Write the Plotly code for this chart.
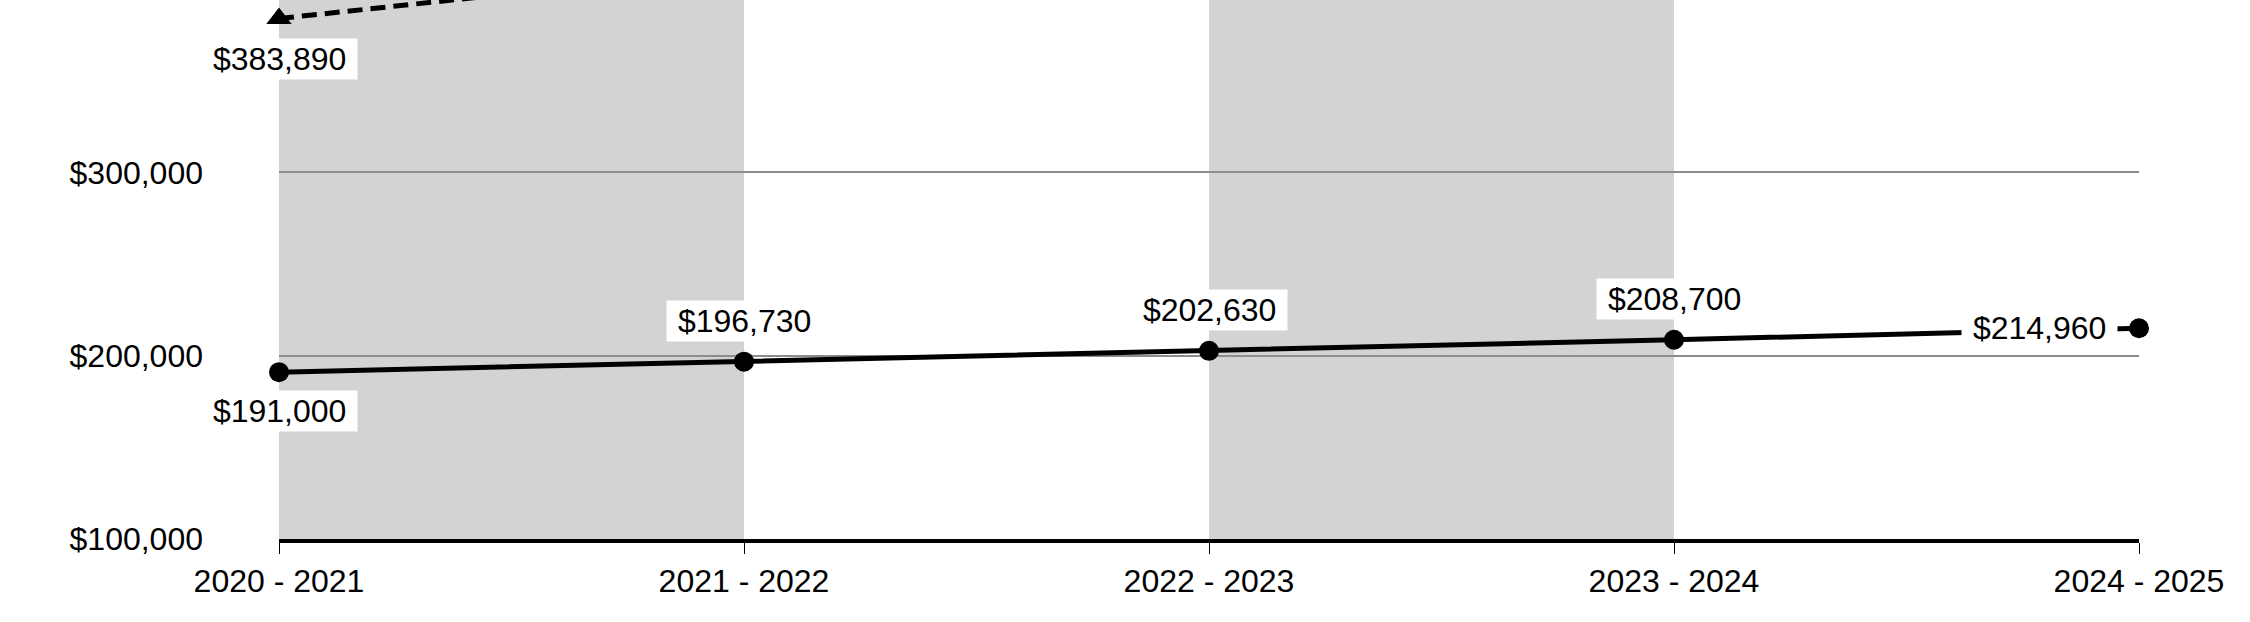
import plotly.graph_objects as go

# ---- data ----
categories = ["2020 - 2021", "2021 - 2022", "2022 - 2023", "2023 - 2024", "2024 - 2025"]
solid_values = [191000, 196730, 202630, 208700, 214960]
dashed_values = [383890, 411000, 439800, 470600, 503500]  # only first point/segment visible
shaded_spans = [(0, 1), (2, 3)]  # category index spans with grey background
y_tick_values = [100000, 200000, 300000, 400000]
y_tick_labels = ["$100,000", "$200,000", "$300,000", "$400,000"]
axis_title = "(USD)"

FONT = "Liberation Sans, Arial, sans-serif"
FS = 32

x = list(range(len(categories)))

fig = go.Figure()

fig.add_trace(go.Scatter(
    x=x, y=dashed_values, mode="lines+markers",
    line=dict(color="black", width=5, dash="15px,8px"),
    marker=dict(symbol="triangle-up", size=22, color="black"),
    cliponaxis=False, hoverinfo="skip", showlegend=False,
))
fig.add_trace(go.Scatter(
    x=x, y=solid_values, mode="lines+markers",
    line=dict(color="black", width=5),
    marker=dict(symbol="circle", size=20, color="black"),
    cliponaxis=False, hoverinfo="skip", showlegend=False,
))

for a, b in shaded_spans:
    fig.add_shape(type="rect", xref="x", yref="paper", x0=x[a], x1=x[b], y0=0, y1=1,
                  fillcolor="#d3d3d3", line=dict(width=0), layer="below")

def fmt(v):
    return "${:,}".format(v)

nb = "\u00a0"
annots = []
placement = ["below", "above", "above", "above", "left"]
for i, (v, p) in enumerate(zip(solid_values, placement)):
    d = dict(x=x[i], y=v, xref="x", yref="y", text=nb + fmt(v) + nb, showarrow=False,
             bgcolor="white", borderpad=2, font=dict(family=FONT, size=FS, color="black"))
    if p == "below":
        d.update(yshift=-39)
    elif p == "above":
        d.update(yshift=41)
    else:
        d.update(xanchor="right", xshift=-21)
    annots.append(d)
annots.append(dict(x=x[0], y=dashed_values[0], xref="x", yref="y", text=nb + fmt(dashed_values[0]) + nb,
                   showarrow=False, bgcolor="white", borderpad=2, yshift=-40,
                   font=dict(family=FONT, size=FS, color="black")))
# partially visible axis title at top-left (cut by the top edge, as in the reference)
annots.append(dict(x=-0.0898, y=1, xref="paper", yref="paper", text=axis_title, showarrow=False,
                   yanchor="bottom", yshift=-2, font=dict(family=FONT, size=FS, color="black")))

fig.update_layout(
    width=2250, height=622,
    margin=dict(l=279, r=111, t=0, b=83, autoexpand=False),
    paper_bgcolor="white", plot_bgcolor="white",
    font=dict(family=FONT, size=FS, color="black"),
    annotations=annots,
    xaxis=dict(
        range=[0, 4], tickvals=x, ticktext=categories, automargin=False,
        showgrid=False, zeroline=False,
        showline=True, linecolor="black", linewidth=4,
        ticks="outside", ticklen=11, tickwidth=1, tickcolor="black",
        tickfont=dict(family=FONT, size=FS, color="black"),
    ),
    yaxis=dict(
        range=[100000, 394000], tickvals=y_tick_values, ticktext=y_tick_labels, automargin=False,
        showgrid=True, gridcolor="#8c8c8c", gridwidth=1.5, zeroline=False,
        showline=False, ticks="", ticklabelstandoff=75,
        tickfont=dict(family=FONT, size=FS, color="black"),
    ),
)

fig.write_html("out.html", config={"displayModeBar": False},
               post_script="document.body.style.margin='0';document.body.style.overflow='hidden';")
